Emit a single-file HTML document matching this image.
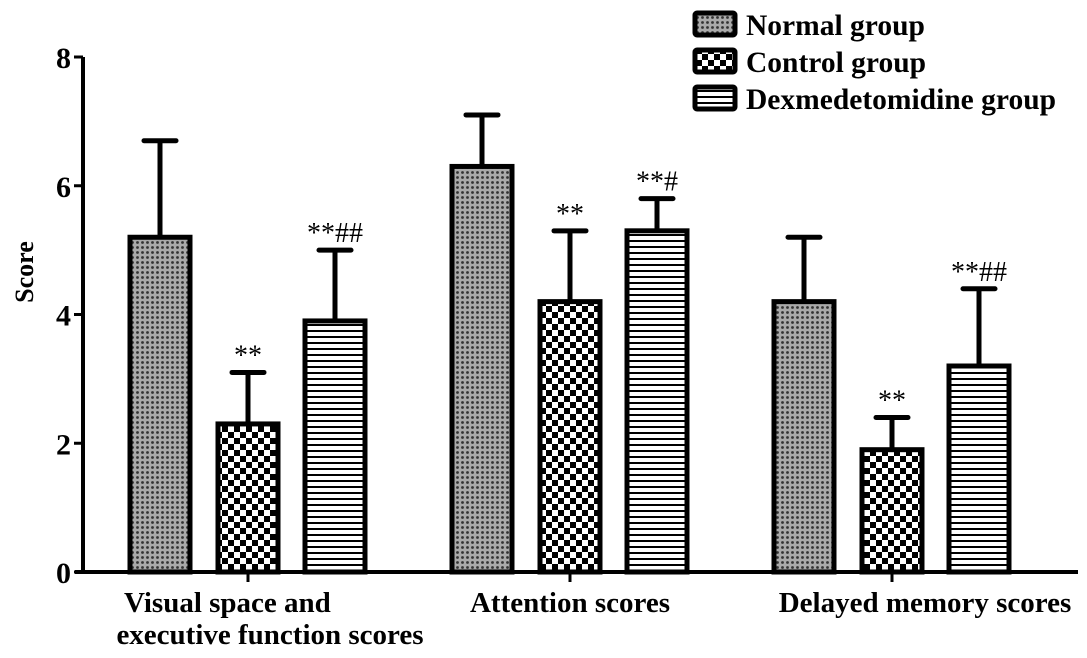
<!DOCTYPE html>
<html><head><meta charset="utf-8"><style>
body{margin:0;background:#fff;}
svg{display:block;font-family:"Liberation Serif",serif;font-weight:bold;}
</style></head><body>
<svg id="chart" width="1087" height="658" viewBox="0 0 1087 658">
<defs>
<pattern id="pNormal" width="5" height="5" patternUnits="userSpaceOnUse"><rect width="5" height="5" fill="#aaa"/><circle cx="2.5" cy="2.5" r="1.4" fill="#333"/></pattern>
<pattern id="pControl" width="12" height="12" patternUnits="userSpaceOnUse"><rect width="12" height="12" fill="#fff"/><rect x="0" y="0" width="6" height="6" fill="#000"/><rect x="6" y="6" width="6" height="6" fill="#000"/></pattern>
<pattern id="pDex" width="6" height="6" patternUnits="userSpaceOnUse"><rect width="6" height="6" fill="#fff"/><rect y="0" width="6" height="2" fill="#000"/></pattern>
</defs>
<g id="plot"></g>
<g id="legend"></g>
</svg>
<script>
const categories1 = ["Visual space and", "Attention scores", "Delayed memory scores"];
const categories2 = ["executive function scores", "", ""];
const normalMeans = [5.2, 6.3, 4.2];
const normalErr = [6.7, 7.1, 5.2];
const controlMeans = [2.3, 4.2, 1.9];
const controlErr = [3.1, 5.3, 2.4];
const dexMeans = [3.9, 5.3, 3.2];
const dexErr = [5.0, 5.8, 4.4];
const controlMarks = ["**", "**", "**"];
const dexMarks = ["**##", "**#", "**##"];
const yTicks = [0, 2, 4, 6, 8];
const seriesNames = ["Normal group", "Control group", "Dexmedetomidine group"];

const NS = "http://www.w3.org/2000/svg";
const plot = document.getElementById('plot');
const x0 = 83, y0 = 572, yTop = 57, xEnd = 1078;
const y = v => y0 - (v / 8) * (y0 - yTop);
const groupCenter = i => 248 + i * 322;
const barOff = [-88, 0, 87], barW = 60;
function mk(tag, attrs, parent) { const e = document.createElementNS(NS, tag); for (const k in attrs) e.setAttribute(k, attrs[k]); (parent || plot).appendChild(e); return e; }

const ya = mk('line', {x1: x0, y1: yTop, x2: x0, y2: y0 + 2, stroke: '#000', 'stroke-width': 4});


const xa = mk('line', {x1: x0 - 8, y1: y0, x2: xEnd, y2: y0, stroke: '#000', 'stroke-width': 4});


yTicks.forEach(t => {
  mk('line', {x1: x0 - 9, y1: y(t), x2: x0, y2: y(t), stroke: '#000', 'stroke-width': 3});
  const tl = mk('text', {x: 71, y: y(t) + 11, 'text-anchor': 'end', 'font-size': 30});
  tl.textContent = t;
  
  
});
const yt = mk('text', {x: 0, y: 0, 'font-size': 26, 'text-anchor': 'middle', transform: 'translate(33,272) rotate(-90)'});
yt.textContent = 'Score';



const series = [
  {m: normalMeans, e: normalErr, f: 'url(#pNormal)', marks: null, n: 'normal'},
  {m: controlMeans, e: controlErr, f: 'url(#pControl)', marks: controlMarks, n: 'control'},
  {m: dexMeans, e: dexErr, f: 'url(#pDex)', marks: dexMarks, n: 'dex'}
];
const labelCx = [270, 570, 925];
categories1.forEach((c, i) => {
  const cx = groupCenter(i);
  mk('line', {x1: cx, y1: y0, x2: cx, y2: y0 + 10, stroke: '#000', 'stroke-width': 3});
  const twoLine = !!categories2[i];
  const l1 = mk('text', twoLine ? {x: 124, y: 612, 'text-anchor': 'start', 'font-size': 29} : {x: labelCx[i], y: 612, 'text-anchor': 'middle', 'font-size': 29});
  l1.textContent = c;
  
  
  if (twoLine) {
    const l2 = mk('text', {x: labelCx[i], y: 644, 'text-anchor': 'middle', 'font-size': 29});
    l2.textContent = categories2[i];
    
    
  }
  series.forEach((s, j) => {
    const bx = cx + barOff[j];
    const top = y(s.m[i]), et = y(s.e[i]);
    const eb = mk('line', {x1: bx, y1: top, x2: bx, y2: et, stroke: '#000', 'stroke-width': 5});
    
    
    mk('line', {x1: bx - 16, y1: et, x2: bx + 16, y2: et, stroke: '#000', 'stroke-width': 5, 'stroke-linecap': 'round'});
    const r = mk('rect', {x: bx - barW / 2, y: top, width: barW, height: y0 - top, fill: s.f, stroke: '#000', 'stroke-width': 5});
    
    
    if (s.marks) {
      const mt = mk('text', {x: bx, y: et - 8, 'text-anchor': 'middle', 'font-size': 28, 'font-weight': 'normal'});
      mt.textContent = s.marks[i];
      
      
    }
  });
});

const lg = document.getElementById('legend');
const fills = ['url(#pNormal)', 'url(#pControl)', 'url(#pDex)'];
seriesNames.forEach((n, i) => {
  const yy = 10 + i * 37;
  const sw = mk('rect', {x: 695, y: yy + 3, width: 40, height: 22, fill: fills[i], stroke: '#000', 'stroke-width': 5, rx: 2}, lg);
  
  
  const t = mk('text', {x: 746, y: yy + 25, 'font-size': 29.5}, lg);
  t.textContent = n;
  
  
});
</script>
</body></html>
